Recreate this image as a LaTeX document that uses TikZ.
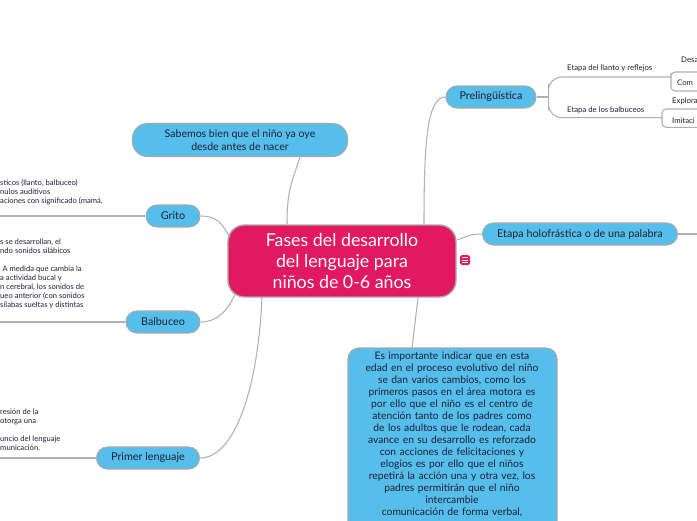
\documentclass[tikz,border=0pt]{standalone}
\usepackage{fontspec}
\setmainfont{Lato}
\usepackage{tikz}
\usetikzlibrary{positioning,calc}
\definecolor{rosa}{HTML}{E3195F}
\definecolor{celeste}{HTML}{55BEEB}
\definecolor{borde}{HTML}{A8A8A8}
\definecolor{linea}{HTML}{B0B0B0}
\definecolor{tinta}{HTML}{1F1F33}

\begin{document}
\begin{tikzpicture}[x=0.03cm, y=-0.03cm,
    rama/.style={draw=linea, line width=0.9pt},
    tema/.style={draw=borde, line width=0.9pt, fill=celeste, text=tinta, rounded corners=0.33cm,
        minimum height=0.66cm, font=\fontsize{9.2}{11}\selectfont},
    nota/.style={text=tinta, font=\fontsize{6.5}{7.65}\selectfont, inner sep=0pt, align=left, anchor=west},
    subnota/.style={text=tinta, font=\fontsize{6.6}{7.5}\selectfont, inner sep=0pt, anchor=west}]
    \useasboundingbox (0,0) rectangle (697,520);
    \clip (0,0) rectangle (697,520);

    % Central topic
    \node[draw=borde, line width=1.2pt, fill=rosa, text=white, rounded corners=0.5cm,
        minimum width=6.84cm, minimum height=2.16cm, align=center,
        font=\fontsize{15.2}{17.6}\selectfont] (centro) at (342,261)
        {Fases del desarrollo\\del lenguaje para\\niños de 0-6 años};
    \node[fill=rosa, rounded corners=1.5pt, minimum size=0.3cm, inner sep=0pt] (icono) at (465,260) {};
    \foreach \dy in {-2.2,0,2.2}
        \draw[white, line width=0.6pt] ($(icono.center)+(-2.6,\dy)$) -- +(5.2,0);

    % Main topics
    \node[tema, minimum width=6.45cm, minimum height=0.99cm, rounded corners=0.45cm, align=center,
        font=\fontsize{9}{11}\selectfont] (sabemos) at (240,140)
        {Sabemos bien que el niño ya oye\\desde antes de nacer};
    \node[tema, minimum width=1.62cm] (grito) at (173,216) {Grito};
    \node[tema, minimum width=2.22cm] (balbuceo) at (163,322) {Balbuceo};
    \node[tema, minimum width=3.09cm] (primer) at (148,458) {Primer lenguaje};
    \node[tema, minimum width=2.7cm] (preling) at (491,97) {Prelingüística};
    \node[tema, minimum width=5.85cm] (holo) at (580,234) {Etapa holofrástica o de una palabra};

    % Long note (runs past the bottom)
    \draw[tema] (348,348) rectangle (557,600);
    \node[anchor=north, text width=6.1cm, align=center, inner sep=0pt, text=tinta,
        font=\fontsize{8.8}{10.2}\selectfont] (importante) at (452,352)
        {Es importante indicar que en esta\\edad en el proceso evolutivo del niño\\
        se dan varios cambios, como los\\primeros pasos en el área motora es\\
        por ello que el niño es el centro de\\atención tanto de los padres como\\
        de los adultos que le rodean, cada\\avance en su desarrollo es reforzado\\
        con acciones de felicitaciones y\\elogios es por ello que el niños\\
        repetirá la acción una y otra vez, los\\padres permitirán que el niño\\
        intercambie\\comunicación de forma verbal,};

    % Branches from the centre
    \draw[rama] ($(centro.north)+(-55,0)$) .. controls +(0,-35) and +(-8,25) .. ($(sabemos.south)+(60,0)$);
    \draw[rama] (grito.east) .. controls +(22,0) and +(-6,-6) .. ($(centro.west)+(3,-24)$);
    \draw[rama] (balbuceo.east) .. controls +(22,0) and +(-4,8) .. ($(centro.south west)+(8,-4)$);
    \draw[rama] ($(centro.south)+(-80,0)$) .. controls +(-4,90) and +(35,0) .. (primer.east);
    \draw[rama] ($(centro.north)+(82,0)$) .. controls +(0,-85) and +(-18,0) .. (preling.west);
    \draw[rama] ($(centro.east)+(0,-21)$) .. controls +(10,-3) and +(-14,0) .. (holo.west);
    \draw[rama] ($(centro.south)+(76,0)$) -- ($(importante.north)+(-40,-4)$);

    % Notes on the left (cut by the frame)
    \coordinate (grito-fin) at (0,216);
    \coordinate (balbuceo-fin) at (0,322);
    \coordinate (primer-fin) at (0,458);
    \draw[rama] (grito.west) -- (grito-fin);
    \draw[rama] (balbuceo.west) -- (balbuceo-fin);
    \draw[rama] (primer.west) -- (primer-fin);
    \node[nota] (grito-nota) at (0,192)
        {sticos (llanto, balbuceo)\\nulos auditivos\\aciones con significado (mamá,};
    \node[nota] (balbuceo-nota) at (0,273.5)
        {s se desarrollan, el\\ndo sonidos silábicos\\[7.65pt]
        \hspace{2pt}A medida que cambia la\\a actividad bucal y\\n cerebral, los sonidos de\\
        ueo anterior (con sonidos\\sílabas sueltas y distintas};
    \node[nota] (primer-nota) at (0,430)
        {resión de la\\otorga una\\[7.65pt]uncio del lenguaje\\municación.};

    % Prelinguistic stages
    \coordinate (pb) at ($(preling.east)+(12,0)$);
    \coordinate (llanto-fin) at (671,77);
    \coordinate (balb-fin) at (662,117.7);
    \draw[rama] (preling.east) -- (pb);
    \draw[rama, rounded corners=0.4cm] (llanto-fin) -| (pb) |- (balb-fin);
    \node[subnota] (llanto) at (567,68) {Etapa del llanto y reflejos};
    \node[subnota] (balbuceos) at (567,110.5) {Etapa de los balbuceos};
    \coordinate (desa-fin) at (697,72);
    \coordinate (com-fin) at (697,91);
    \coordinate (explora-fin) at (697,109);
    \coordinate (imita-fin) at (697,127.3);
    \draw[rama, rounded corners=0.12cm] (desa-fin) -| (llanto-fin) |- (com-fin);
    \draw[rama, rounded corners=0.12cm] (explora-fin) -| (balb-fin) |- (imita-fin);
    \node[subnota] (desa) at (681,60) {Desa};
    \node[subnota] (com) at (677,83) {Com};
    \node[subnota] (explora) at (672,101.5) {Explora};
    \node[subnota] (imita) at (672,120.5) {Imitaci};

    % Right end of the holophrastic stage
    \coordinate (holo-fin) at (697,234);
    \draw[rama] (holo.east) -- (holo-fin);
\end{tikzpicture}
\end{document}
